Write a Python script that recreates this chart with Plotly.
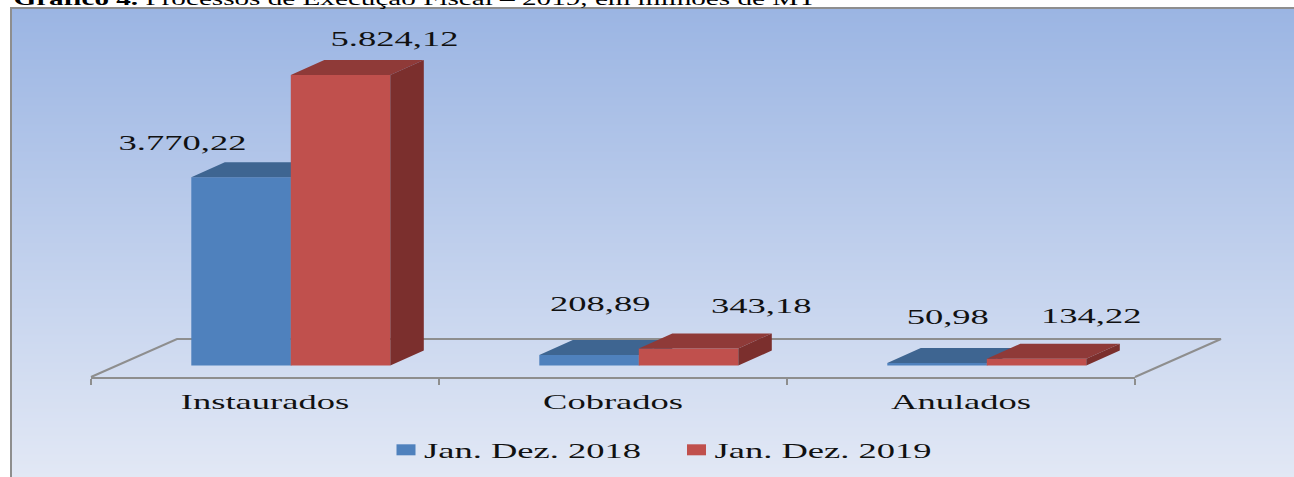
import plotly.graph_objects as go

categories = ["Instaurados", "Cobrados", "Anulados"]
series_2018 = [3770.22, 208.89, 50.98]
series_2019 = [5824.12, 343.18, 134.22]
labels_2018 = ["3.770,22", "208,89", "50,98"]
labels_2019 = ["5.824,12", "343,18", "134,22"]
name_2018 = "Jan. Dez. 2018"
name_2019 = "Jan. Dez. 2019"
title_bold = "Gráfico 4."
title_rest = " Processos de Execução Fiscal – 2019, em milhões de MT"

W, H = 1294, 477
FONT = "Liberation Serif"
TXT = "#111111"
GREY = "#8e8e8e"

# scale of the axes: pixels per unit, and where the zero line sits
PX_PER_X = 348.0
PX_PER_Y = 0.0499
LEFT_PX = 91
ZERO_PX = 365.5
AXIS_PX = 377
BOX_LEFT = 12
BOX_TOP = 9
y_low = -(AXIS_PX - ZERO_PX) / PX_PER_Y
y_high = ZERO_PX / PX_PER_Y
y_range = [y_low, y_high]
x_range = [0, 3]
bg_x_range = [(BOX_LEFT - LEFT_PX) / PX_PER_X, (W - LEFT_PX) / PX_PER_X]
bg_y_range = [(ZERO_PX - H) / PX_PER_Y, (ZERO_PX - BOX_TOP) / PX_PER_Y]

BAR_W = 99.5 / PX_PER_X
OFF_A = 100.3 / PX_PER_X
OFF_B = OFF_A + BAR_W
DX = 33.5 / PX_PER_X
DY = 15 / PX_PER_Y
FLOOR_DX = 86 / PX_PER_X
FLOOR_BACK = (ZERO_PX - 339) / PX_PER_Y


def faces(values, off):
    tx, ty, sx, sy = [], [], [], []
    for i, v in enumerate(values):
        x0 = i + off
        x1 = x0 + BAR_W
        tx += [x0, x0 + DX, x1 + DX, x1, x0, None]
        ty += [v, v + DY, v + DY, v, v, None]
        sx += [x1, x1 + DX, x1 + DX, x1, x1, None]
        sy += [0, DY, v + DY, v, 0, None]
    return tx, ty, sx, sy


fig = go.Figure()

# background gradient
fig.add_trace(go.Heatmap(
    x=bg_x_range, y=bg_y_range, z=[[0, 0], [1, 1]], zsmooth="best", showscale=False,
    zmin=0, zmax=1, hoverinfo="skip", xaxis="x", yaxis="y",
    colorscale=[[0, "rgb(226,232,245)"], [1, "rgb(155,181,227)"]],
))

# floor outline
fig.add_trace(go.Scatter(
    x=[0, FLOOR_DX, 3 + FLOOR_DX, 3], y=[y_low, FLOOR_BACK, FLOOR_BACK, y_low],
    mode="lines", line=dict(color=GREY, width=2),
    showlegend=False, hoverinfo="skip", xaxis="x", yaxis="y",
))


def add_series(values, off, name, front, top, side, xa, ya):
    tx, ty, sx, sy = faces(values, off)
    fig.add_trace(go.Bar(
        x=list(range(len(values))), y=values, width=BAR_W, offset=off, name=name,
        marker=dict(color=front, line=dict(width=0)), xaxis=xa, yaxis=ya,
    ))
    fig.add_trace(go.Scatter(x=tx, y=ty, mode="lines", fill="toself", fillcolor=top,
                             line=dict(width=0, color=top), showlegend=False,
                             hoverinfo="skip", xaxis=xa, yaxis=ya))
    fig.add_trace(go.Scatter(x=sx, y=sy, mode="lines", fill="toself", fillcolor=side,
                             line=dict(width=0, color=side), showlegend=False,
                             hoverinfo="skip", xaxis=xa, yaxis=ya))


add_series(series_2018, OFF_A, name_2018, "#4f81bd", "#3e6591", "#375c84", "x3", "y3")
add_series(series_2019, OFF_B, name_2019, "#c0504d", "#8f3a38", "#7b2f2d", "x4", "y4")

# pixel offsets of the data labels from the top of their bars
shift_2018 = [(-59, 35), (11, 52), (11, 46)]
shift_2019 = [(54, 36), (73, 43), (55, 43)]
annotations = []
for vals, labs, shifts, off in [(series_2018, labels_2018, shift_2018, OFF_A),
                                (series_2019, labels_2019, shift_2019, OFF_B)]:
    for i, (v, lab, sh) in enumerate(zip(vals, labs, shifts)):
        annotations.append(dict(
            x=i + off + BAR_W / 2, y=v, xref="x2", yref="y2", text=lab, showarrow=False,
            xanchor="center", yanchor="middle", xshift=sh[0], yshift=sh[1],
            font=dict(family=FONT, size=22, color=TXT),
        ))
annotations.append(dict(
    x=414 / W, y=1, xref="paper", yref="paper", xanchor="center", yanchor="bottom",
    yshift=-11, showarrow=False, text=f"<b>{title_bold}</b>{title_rest}",
    font=dict(family=FONT, size=18, color="#000000"),
))

hidden = dict(visible=False, fixedrange=True)
fig.update_layout(
    width=W, height=H, margin=dict(l=0, r=0, t=0, b=0), autosize=False,
    paper_bgcolor="white", plot_bgcolor="rgba(0,0,0,0)", barmode="overlay",
    annotations=annotations,
    xaxis=dict(domain=[BOX_LEFT / W, 1], range=bg_x_range, side="top", showline=True,
               linecolor=GREY, linewidth=2, showgrid=False, zeroline=False,
               showticklabels=False, ticks="", anchor="y"),
    yaxis=dict(domain=[0, (H - BOX_TOP) / H], range=bg_y_range, showline=True, linecolor=GREY,
               linewidth=2, showgrid=False, zeroline=False, showticklabels=False, ticks="",
               anchor="x"),
    xaxis2=dict(domain=[LEFT_PX / W, 1135 / W], range=x_range, anchor="y2", showline=True,
                linecolor=GREY, linewidth=2, showgrid=False, zeroline=False,
                tickmode="array", tickvals=[i + 0.5 for i in range(len(categories))],
                ticktext=categories, ticks="", ticklen=0, ticklabelstandoff=4,
                tickfont=dict(family=FONT, size=22, color=TXT),
                minor=dict(tick0=0, dtick=1, ticks="outside", ticklen=6, tickwidth=2,
                           tickcolor=GREY, showgrid=False)),
    yaxis2=dict(domain=[(H - AXIS_PX) / H, 1], range=y_range, anchor="x2", **hidden),
    xaxis3=dict(overlaying="x2", range=x_range, anchor="y3", **hidden),
    yaxis3=dict(overlaying="y2", range=y_range, anchor="x3", **hidden),
    xaxis4=dict(overlaying="x2", range=x_range, anchor="y4", **hidden),
    yaxis4=dict(overlaying="y2", range=y_range, anchor="x4", **hidden),
    legend=dict(orientation="h", x=384 / W, y=(H - 450) / H, xanchor="left", yanchor="middle",
                xref="paper", yref="paper", bgcolor="rgba(0,0,0,0)", entrywidthmode="pixels",
                entrywidth=245.5, itemwidth=30, itemclick=False, itemdoubleclick=False,
                font=dict(family=FONT, size=22, color=TXT), traceorder="normal"),
    showlegend=True,
)

# removes the page margin and stretches the real text horizontally, as the picture is stretched
post_script = """
document.body.style.margin = '0';
document.body.style.overflow = 'hidden';
document.querySelectorAll('.annotation-text, .x2tick text, .legendtext').forEach(function (t) {
  var s = t.textContent.indexOf('Gr') === 0 ? 1.62 : 1.66;
  var w = t.getComputedTextLength();
  t.setAttribute('lengthAdjust', 'spacingAndGlyphs');
  t.setAttribute('textLength', w * s);
});
document.querySelectorAll('.legendpoints path').forEach(function (p) {
  p.setAttribute('d', 'M11.5,5.5H-7.5V-5.5H11.5Z');
});
"""
fig.write_html("out.html", post_script=post_script, config={"displayModeBar": False})
